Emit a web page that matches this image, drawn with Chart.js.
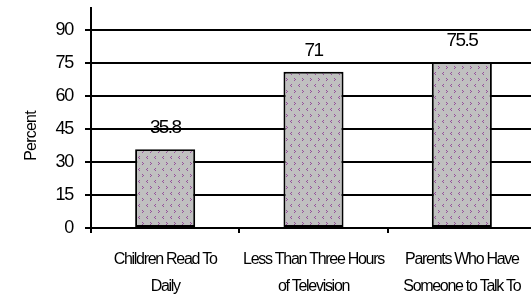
<!DOCTYPE html>
<html>
<head>
<meta charset="utf-8">
<script src="https://cdn.jsdelivr.net/npm/chart.js@4/dist/chart.umd.min.js"></script>
<style>
html,body{margin:0;padding:0;background:#fff;overflow:hidden;}
#wrap{width:536px;height:296px;position:relative;}
</style>
</head>
<body>
<div id="wrap"><canvas id="c" width="536" height="296"></canvas></div>
<script>
const categories = [["Children Read To","Daily"],["Less Than Three Hours","of Television"],["Parents Who Have","Someone to Talk To"]];
const percentValues = [35.8, 71, 75.5];
const yTickValues = [0, 15, 30, 45, 60, 75, 90];
const yAxisTitle = "Percent";

const FONT = "'Liberation Sans Narrow', 'Liberation Sans', Arial, sans-serif";
const SPACING = '-1.3px';

function makePattern(){
  const p = document.createElement('canvas');
  p.width = 8; p.height = 12;
  const g = p.getContext('2d');
  g.fillStyle = '#c0c0c0';
  g.fillRect(0,0,8,12);
  g.fillStyle = '#94509a';
  g.fillRect(3,0,1,1); g.fillRect(2,1,1,1); g.fillRect(3,2,1,1);
  g.fillRect(6,6,1,1); g.fillRect(7,7,1,1); g.fillRect(6,8,1,1);
  return document.getElementById('c').getContext('2d').createPattern(p,'repeat');
}

const narrowText = {
  id: 'narrowText',
  beforeUpdate(chart){ chart.ctx.letterSpacing = SPACING; },
  beforeLayout(chart){ chart.ctx.letterSpacing = SPACING; },
  beforeDraw(chart){ chart.ctx.letterSpacing = SPACING; }
};

const valueLabels = {
  id: 'valueLabels',
  afterDatasetsDraw(chart){
    const ctx = chart.ctx;
    const meta = chart.getDatasetMeta(0);
    ctx.save();
    ctx.letterSpacing = '-1.6px';
    ctx.font = "19px " + FONT;
    ctx.fillStyle = '#000';
    ctx.textAlign = 'center';
    ctx.textBaseline = 'middle';
    meta.data.forEach((bar,i)=>{
      ctx.fillText(String(chart.data.datasets[0].data[i]), bar.x, bar.y - 21);
    });
    ctx.restore();
  }
};

const yTitle = {
  id: 'yTitle',
  afterDraw(chart){
    const ctx = chart.ctx;
    const ca = chart.chartArea;
    ctx.save();
    ctx.letterSpacing = '-0.8px';
    ctx.translate(ca.left - 59, ca.top + 128);
    ctx.rotate(-Math.PI/2);
    ctx.font = "16px " + FONT;
    ctx.fillStyle = '#000';
    ctx.textAlign = 'center';
    ctx.textBaseline = 'middle';
    ctx.fillText(yAxisTitle, 0, 0);
    ctx.restore();
  }
};

new Chart(document.getElementById('c'), {
  type: 'bar',
  data: {
    labels: categories,
    datasets: [{
      data: percentValues,
      backgroundColor: makePattern(),
      borderColor: '#000',
      borderWidth: 2,
      borderSkipped: false,
      barPercentage: 0.405,
      categoryPercentage: 1
    }]
  },
  options: {
    responsive: false,
    animation: false,
    events: [],
    layout: { padding: { top: 8, right: 0, left: 0, bottom: 0 } },
    plugins: { legend: { display: false }, tooltip: { enabled: false } },
    scales: {
      x: {
        offset: true,
        grid: { display: true, drawOnChartArea: false, drawTicks: true, tickLength: 5, color: '#000', lineWidth: 2, offset: true },
        border: { display: true, color: '#000', width: 2 },
        ticks: { color: '#000', font: { family: FONT, size: 16, lineHeight: 1.7 }, padding: 13, maxRotation: 0, autoSkip: false },
        afterFit(s){ s.height = 68; s.paddingLeft = 0; s.paddingRight = 0; }
      },
      y: {
        min: 0, max: 100,
        afterBuildTicks(s){ s.ticks = yTickValues.map(v=>({value:v})); },
        grid: { color: '#000', lineWidth: 2, drawTicks: true, tickLength: 6 },
        border: { display: true, color: '#000', width: 2 },
        ticks: { color: '#000', font: { family: FONT, size: 18 }, padding: 12 },
        afterFit(s){ s.width = 91; s.paddingTop = 0; s.paddingBottom = 0; }
      }
    }
  },
  plugins: [narrowText, valueLabels, yTitle]
});
</script>
</body>
</html>
